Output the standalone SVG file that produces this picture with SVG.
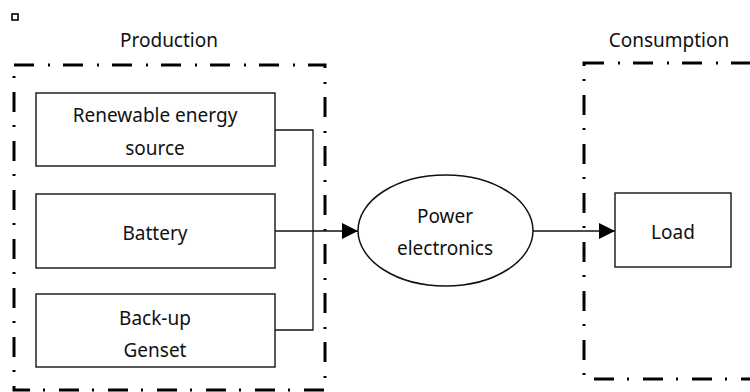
<svg xmlns="http://www.w3.org/2000/svg" width="750" height="392" viewBox="0 0 750 392">
<style>
text{font-family:"Noto Sans","Open Sans",sans-serif;font-size:19px;fill:#111;text-anchor:middle;dominant-baseline:central}
.box{fill:#fff;stroke:#222;stroke-width:1.5}
.zone{fill:none;stroke:#000;stroke-width:3;stroke-dasharray:20 14 2 13}
.wire{fill:none;stroke:#111;stroke-width:1.3}
</style>
<defs>
<marker id="arr" viewBox="0 0 16 16" refX="16" refY="8" markerWidth="16" markerHeight="16" markerUnits="userSpaceOnUse" orient="auto">
<path d="M0,0 L16,8 L0,16 Z" fill="#000"/>
</marker>
</defs>
<rect x="12" y="14" width="6" height="6" fill="none" stroke="#000" stroke-width="1.6"/>
<g id="production-zone">
<rect class="zone" x="14" y="65" width="311" height="325"/>
<text x="169" y="40">Production</text>
</g>
<g id="consumption-zone">
<rect class="zone" x="584" y="63" width="200" height="316"/>
<text x="669" y="40">Consumption</text>
</g>
<g id="connectors">
<polyline class="wire" points="275,130 313,130 313,330 275,330"/>
<line class="wire" x1="275" y1="231" x2="358" y2="231" marker-end="url(#arr)"/>
<line class="wire" x1="533" y1="231" x2="615" y2="231" marker-end="url(#arr)"/>
</g>
<g id="renewable">
<rect class="box" x="36" y="93" width="239" height="73"/>
<text x="155" y="115">Renewable energy</text>
<text x="155" y="148">source</text>
</g>
<g id="battery">
<rect class="box" x="36" y="194" width="239" height="74"/>
<text x="155" y="233">Battery</text>
</g>
<g id="genset">
<rect class="box" x="36" y="294" width="239" height="73"/>
<text x="155" y="318">Back-up</text>
<text x="155" y="350">Genset</text>
</g>
<g id="power-electronics">
<ellipse cx="445.5" cy="230.5" rx="87.5" ry="55.5" fill="#fff" stroke="#111" stroke-width="1.5"/>
<text x="445" y="216">Power</text>
<text x="445" y="248">electronics</text>
</g>
<g id="load">
<rect class="box" x="615" y="193" width="116" height="74"/>
<text x="673" y="232">Load</text>
</g>
</svg>
